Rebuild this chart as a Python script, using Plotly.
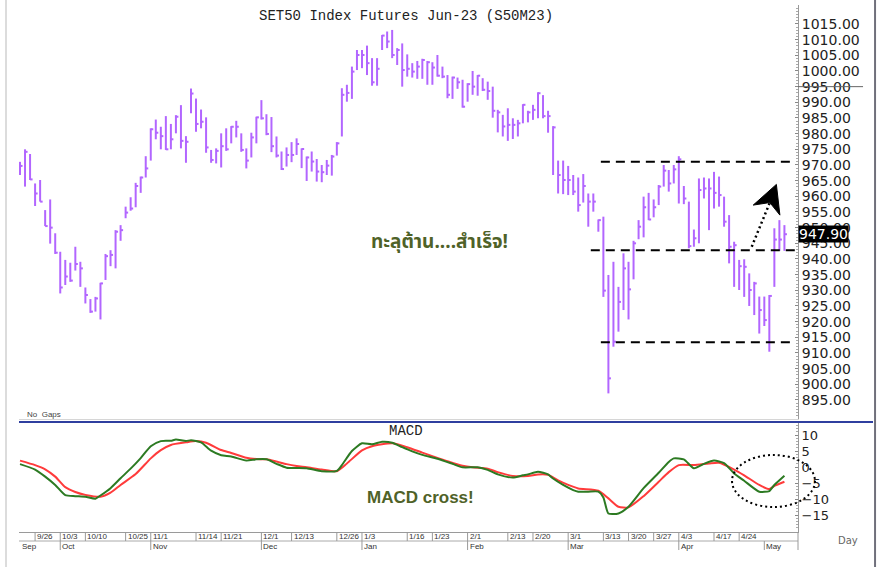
import pandas as pd
import plotly.graph_objects as go

# ---------------- data ----------------
holidays = ["2022-10-13", "2022-10-14", "2022-10-24", "2022-12-05", "2022-12-12",
            "2023-01-02", "2023-03-06", "2023-04-06", "2023-04-13", "2023-04-14",
            "2023-05-01", "2023-05-04"]
dates = [d.strftime("%Y-%m-%d") for d in pd.bdate_range("2022-09-21", "2023-05-09")
         if d.strftime("%Y-%m-%d") not in holidays]

high = [971.0, 975.0, 973.5, 964.1, 965.2, 955.6, 959.0, 948.2, 942.3, 939.7,
        938.8, 943.9, 939.1, 930.9, 927.2, 927.9, 932.4, 941.6, 942.8, 949.2,
        950.8, 956.7, 959.7, 964.3, 966.3, 972.8, 981.7, 984.5, 982.2, 985.6,
        983.1, 985.9, 989.1, 979.2, 994.4, 991.2, 987.7, 985.2, 974.8, 975.3,
        980.1, 981.7, 982.4, 984.1, 980.1, 975.3, 980.3, 985.4, 990.7, 986.2,
        985.3, 979.1, 974.3, 975.6, 977.3, 978.5, 975.3, 972.7, 974.3, 971.9,
        970.0, 971.6, 973.2, 977.3, 994.5, 995.6, 1001.4, 1006.7, 1006.7, 1008.1,
        1004.1, 1004.1, 1011.5, 1012.6, 1013.1, 1007.3, 1008.8, 1005.3, 1002.5, 1003.2,
        1003.9, 1003.2, 1002.8, 1005.1, 1001.4, 998.7, 998.2, 997.9, 997.2, 996.1,
        1000.0, 998.7, 997.7, 996.6, 995.0, 987.6, 986.0, 988.1, 984.9, 984.4,
        989.4, 987.3, 989.2, 993.2, 992.3, 987.3, 982.4, 971.4, 971.4, 969.7,
        966.8, 966.0, 967.1, 960.9, 960.9, 952.6, 953.5, 934.9, 939.1, 931.1,
        941.8, 939.1, 945.8, 952.4, 959.9, 961.1, 959.0, 963.6, 970.0, 968.4,
        970.0, 972.8, 963.3, 958.3, 949.4, 965.7, 966.0, 965.7, 967.8, 966.3,
        959.9, 954.0, 945.5, 939.7, 939.9, 935.4, 932.7, 928.0, 928.0, 928.5,
        949.8, 952.4, 950.8]
low = [966.8, 963.1, 965.2, 956.9, 958.3, 950.5, 944.9, 941.6, 929.0, 931.7,
       932.7, 936.3, 931.1, 925.8, 922.8, 923.2, 920.7, 933.3, 937.7, 937.0,
       945.8, 953.0, 955.4, 956.5, 961.1, 966.0, 971.4, 978.2, 975.0, 974.8,
       975.0, 980.1, 975.3, 970.7, 986.5, 980.6, 981.7, 973.9, 970.7, 970.5,
       969.2, 974.5, 976.9, 978.8, 974.2, 968.9, 972.4, 976.9, 984.5, 979.5,
       974.1, 972.4, 968.4, 969.5, 970.9, 973.2, 969.0, 964.9, 967.9, 964.7,
       964.5, 966.8, 966.6, 973.0, 979.1, 990.2, 991.1, 1000.3, 1000.9, 998.7,
       995.3, 995.3, 1006.7, 1007.3, 1004.1, 1001.9, 995.0, 998.2, 997.9, 997.5,
       997.5, 995.6, 995.6, 998.2, 997.7, 991.3, 991.1, 994.3, 988.3, 990.2,
       992.4, 992.1, 993.6, 990.8, 985.1, 980.4, 979.1, 977.7, 978.3, 979.1,
       983.3, 983.6, 984.4, 984.9, 984.9, 980.3, 966.8, 960.9, 960.7, 960.4,
       960.4, 955.1, 958.0, 950.3, 955.1, 948.7, 927.9, 897.1, 912.0, 916.8,
       923.7, 920.7, 933.5, 946.3, 946.9, 952.4, 953.3, 957.2, 963.1, 961.5,
       964.1, 957.7, 957.5, 943.4, 943.9, 945.0, 959.3, 949.2, 956.1, 956.7,
       950.3, 938.6, 931.1, 930.1, 927.9, 925.0, 922.1, 916.2, 918.6, 910.4,
       931.1, 942.6, 942.6]
close = [969.7, 974.2, 965.4, 960.9, 958.3, 950.5, 950.0, 942.0, 930.9, 934.4,
         933.1, 938.4, 937.0, 928.5, 923.2, 927.4, 932.2, 940.9, 941.3, 948.7,
         949.2, 954.8, 956.1, 963.3, 966.0, 968.9, 981.4, 980.3, 979.2, 975.0,
         978.2, 985.4, 977.7, 977.4, 992.8, 983.1, 983.8, 975.6, 971.6, 974.5,
         976.0, 975.0, 982.2, 982.2, 974.8, 971.4, 978.8, 985.2, 984.9, 979.9,
         976.0, 973.0, 968.7, 973.2, 973.2, 976.7, 975.1, 972.4, 971.1, 967.9,
         967.7, 969.8, 972.7, 976.9, 992.4, 993.0, 999.8, 1005.1, 1005.1, 1002.5,
         996.4, 1000.7, 1011.3, 1009.4, 1005.1, 1006.7, 1000.3, 1000.7, 999.8, 1001.4,
         1003.5, 1002.8, 1001.1, 998.5, 998.2, 992.4, 997.9, 996.4, 988.6, 995.8,
         995.0, 998.5, 994.0, 993.6, 987.3, 986.8, 982.3, 982.8, 982.8, 983.3,
         989.2, 986.8, 987.6, 992.9, 985.6, 985.6, 982.0, 966.8, 965.2, 965.2,
         961.5, 957.2, 963.3, 958.3, 958.3, 952.4, 929.9, 901.9, 913.6, 926.3,
         937.0, 930.3, 945.0, 950.3, 956.5, 952.6, 956.5, 963.1, 968.2, 964.1,
         968.6, 971.8, 959.3, 944.1, 946.6, 962.0, 962.5, 962.5, 961.1, 960.4,
         951.9, 943.9, 944.4, 937.7, 937.5, 930.1, 932.2, 923.7, 920.5, 928.2,
         946.2, 946.2, 947.9]

macd_dates = ["2022-09-21", "2022-09-26", "2022-09-28", "2022-09-30", "2022-10-04",
              "2022-10-06", "2022-10-10", "2022-10-12", "2022-10-17", "2022-10-19",
              "2022-10-21", "2022-10-26", "2022-10-28", "2022-11-01", "2022-11-03",
              "2022-11-07", "2022-11-08", "2022-11-10", "2022-11-11", "2022-11-15",
              "2022-11-17", "2022-11-21", "2022-11-23", "2022-11-28", "2022-11-30",
              "2022-12-02", "2022-12-07", "2022-12-09", "2022-12-14", "2022-12-16",
              "2022-12-21", "2022-12-26", "2022-12-27", "2022-12-29", "2023-01-03",
              "2023-01-05", "2023-01-09", "2023-01-11", "2023-01-13", "2023-01-17",
              "2023-01-19", "2023-01-24", "2023-01-27", "2023-01-31", "2023-02-03",
              "2023-02-07", "2023-02-09", "2023-02-14", "2023-02-16", "2023-02-17",
              "2023-02-21", "2023-02-23", "2023-02-24", "2023-02-28", "2023-03-02",
              "2023-03-03", "2023-03-08", "2023-03-10", "2023-03-13", "2023-03-14",
              "2023-03-16", "2023-03-20", "2023-03-23", "2023-03-28", "2023-03-30",
              "2023-03-31", "2023-04-04", "2023-04-07", "2023-04-11", "2023-04-17",
              "2023-04-19", "2023-04-21", "2023-04-25", "2023-04-28", "2023-05-03",
              "2023-05-05", "2023-05-09"]
macd_vals = [0.9, -0.8, -3.0, -5.6, -8.8, -9.1, -9.3, -9.9, -8.9, -6.6,
             -3.5, -0.5, 2.8, 6.5, 8.1, 8.2, 8.6, 8.1, 8.4, 7.7,
             5.1, 3.7, 3.3, 2.0, 2.4, 2.4, 1.0, -0.2, -0.3, -0.4,
             -1.3, -1.2, 0.6, 5.0, 7.4, 7.1, 7.9, 7.6, 6.2, 4.9,
             3.8, 2.6, 1.0, -0.1, -0.1, -0.9, -2.3, -3.3, -2.6, -2.3,
             -1.5, -2.3, -3.6, -5.6, -7.2, -7.7, -7.7, -7.7, -9.5, -14.5,
             -14.5, -12.4, -6.6, -1.8, 1.6, 2.7, 2.4, -0.4, 1.0, 2.0,
             1.2, -2.0, -4.3, -7.7, -7.5, -5.6, -2.7]

signal_dates = ["2022-09-21", "2022-09-26", "2022-09-28", "2022-09-30", "2022-10-04",
                "2022-10-06", "2022-10-10", "2022-10-17", "2022-10-19", "2022-10-21",
                "2022-10-27", "2022-11-01", "2022-11-03", "2022-11-07", "2022-11-10",
                "2022-11-14", "2022-11-16", "2022-11-21", "2022-11-23", "2022-11-28",
                "2022-11-30", "2022-12-02", "2022-12-07", "2022-12-09", "2022-12-14",
                "2022-12-16", "2022-12-21", "2022-12-26", "2022-12-28", "2023-01-03",
                "2023-01-05", "2023-01-11", "2023-01-16", "2023-01-19", "2023-01-23",
                "2023-01-26", "2023-01-31", "2023-02-02", "2023-02-07", "2023-02-09",
                "2023-02-14", "2023-02-17", "2023-02-21", "2023-02-23", "2023-02-27",
                "2023-03-01", "2023-03-03", "2023-03-10", "2023-03-14", "2023-03-16",
                "2023-03-20", "2023-03-23", "2023-03-28", "2023-03-30", "2023-04-03",
                "2023-04-07", "2023-04-12", "2023-04-18", "2023-04-21", "2023-04-25",
                "2023-04-28", "2023-05-03", "2023-05-05", "2023-05-09"]
signal_vals = [2.0, 0.6, -0.7, -3.0, -6.3, -7.8, -8.7, -9.3, -8.0, -5.6,
               -2.2, 2.7, 5.3, 6.9, 7.7, 8.1, 7.6, 5.3, 4.4, 2.9,
               2.5, 2.4, 1.7, 0.9, 0.3, -0.1, -0.8, -1.3, 1.1, 5.2,
               6.5, 7.4, 6.2, 4.5, 3.4, 1.8, 0.4, -0.1, -0.5, -1.6,
               -2.8, -2.8, -2.3, -2.4, -4.2, -5.6, -6.7, -7.4, -9.8, -12.4,
               -12.6, -9.1, -4.6, -1.6, 0.6, 0.6, 1.1, 1.3, -0.8, -2.6,
               -5.6, -6.9, -5.9, -4.6]

price_ticks = [895, 900, 905, 910, 915, 920, 925, 930, 935, 940, 945, 950, 955, 960,
               965, 970, 975, 980, 985, 990, 995, 1000, 1005, 1010, 1015]
macd_ticks = [-15, -10, -5, 0, 5, 10]
day_ticks = ["2022-09-26", "2022-10-03", "2022-10-10", "2022-10-25", "2022-11-01",
             "2022-11-14", "2022-11-21", "2022-12-01", "2022-12-13", "2022-12-26",
             "2023-01-03", "2023-01-16", "2023-01-23", "2023-02-01", "2023-02-13",
             "2023-02-20", "2023-03-01", "2023-03-13", "2023-03-20", "2023-03-27",
             "2023-04-03", "2023-04-17", "2023-04-24"]
day_labels = ["9/26", "10/3", "10/10", "10/25", "11/1", "11/14", "11/21", "12/1", "12/13",
              "12/26", "1/3", "1/16", "1/23", "2/1", "2/13", "2/20", "3/1", "3/13", "3/20",
              "3/27", "4/3", "4/17", "4/24"]
month_ticks = ["2022-09-21", "2022-10-03", "2022-11-01", "2022-12-01", "2023-01-03",
               "2023-02-01", "2023-03-01", "2023-04-03", "2023-05-02"]
month_labels = ["Sep", "Oct", "Nov", "Dec", "Jan", "Feb", "Mar", "Apr", "May"]

levels = [971.0, 942.8, 913.4]
level_start = ["2023-03-10", "2023-03-08", "2023-03-10"]
last_price = close[-1]

# ---------------- build ----------------
pos = {d: i for i, d in enumerate(dates)}

bx, by = [], []
for i, d in enumerate(dates):
    bx += [pos[d], pos[d], None, pos[d], pos[d] + 0.5, None]
    by += [low[i], high[i], None, close[i], close[i], None]

PURPLE = "#b266ff"
fig = go.Figure()
fig.add_trace(go.Scatter(x=bx, y=by, mode="lines", line=dict(color=PURPLE, width=2),
                         xaxis="x", yaxis="y", hoverinfo="skip"))
fig.add_trace(go.Scatter(x=[pos[d] for d in signal_dates], y=signal_vals, mode="lines",
                         line=dict(color="#ff3b3b", width=2, shape="spline", smoothing=0.6),
                         xaxis="x2", yaxis="y2"))
fig.add_trace(go.Scatter(x=[pos[d] for d in macd_dates], y=macd_vals, mode="lines",
                         line=dict(color="#2c7a22", width=2, shape="spline", smoothing=0.6),
                         xaxis="x2", yaxis="y2"))

xr = [-0.2, 154.7]
TOP_DOM = [0.2144, 1.0]
BOT_DOM = [0.0, 0.2087]
fig.update_layout(
    width=878, height=567, margin=dict(l=19, r=80, t=5, b=35),
    paper_bgcolor="white", plot_bgcolor="white", showlegend=False,
    xaxis=dict(domain=[0, 1], range=xr, anchor="y", showgrid=False, zeroline=False,
               showticklabels=False, ticks="", showline=True, linecolor="#d6d6d6", linewidth=1),
    yaxis=dict(domain=TOP_DOM, range=[888.92, 1021.06], side="right", anchor="x",
               tickmode="array", tickvals=price_ticks, tickformat=".2f",
               showgrid=False, zeroline=False, showline=True, linecolor="#9a9a9a",
               ticks="inside", ticklen=3, tickcolor="#888",
               minor=dict(tickmode="linear", tick0=0, dtick=1, ticks="inside",
                          ticklen=2, tickcolor="#aaa"),
               tickfont=dict(family="DejaVu Sans", size=14, color="#222")),
    xaxis2=dict(domain=[0, 1], range=xr, anchor="y2", matches="x", showgrid=False,
                zeroline=False, showticklabels=False, ticks="", showline=True,
                linecolor="#9a9a9a", linewidth=1),
    yaxis2=dict(domain=BOT_DOM, range=[-20.3, 14.06], side="right", anchor="x2",
                tickmode="array", tickvals=macd_ticks, showgrid=False, zeroline=False,
                showline=True, linecolor="#9a9a9a", ticks="inside", ticklen=3,
                tickcolor="#888",
                minor=dict(tickmode="linear", tick0=0, dtick=1, ticks="inside",
                           ticklen=2, tickcolor="#aaa"),
                tickfont=dict(family="DejaVu Sans", size=13, color="#222")),
)

shapes = []
for lv, st in zip(levels, level_start):
    shapes.append(dict(type="line", xref="x", yref="y", x0=pos[st] + 0.5, x1=154.1,
                       y0=lv, y1=lv, line=dict(color="black", width=2, dash="9px,6px")))
shapes.append(dict(type="line", xref="x", yref="y", x0=145.5, y0=943.9, x1=149.1, y1=958.0,
                   line=dict(color="black", width=2.5, dash="2px,3px")))
shapes.append(dict(type="path", xref="x", yref="y",
                   path="M 150.4 963.8 L 145.8 957.2 L 149.1 958.0 L 151.1 954.0 Z",
                   fillcolor="black", line=dict(color="black", width=1)))
shapes.append(dict(type="circle", xref="paper", yref="paper", x0=0.9153, x1=1.0218,
                   y0=0.0474, y1=0.1461, line=dict(color="black", width=2, dash="2px,3px")))
shapes.append(dict(type="line", xref="paper", yref="paper", x0=0, x1=1.0963,
                   y0=0.2087, y1=0.2087, line=dict(color="#2f3f9f", width=2)))
shapes.append(dict(type="line", xref="paper", yref="y", x0=1, x1=1.0835, y0=995, y1=995,
                   line=dict(color="#666", width=1)))
shapes.append(dict(type="line", xref="paper", yref="paper", x0=0, x1=1, y0=-0.0171, y1=-0.0171,
                   line=dict(color="#aaa", width=1)))
shapes.append(dict(type="line", xref="paper", yref="paper", x0=1, x1=1, y0=0, y1=-0.0342,
                   line=dict(color="#9a9a9a", width=1)))
for d in day_ticks:
    shapes.append(dict(type="line", xref="x2", yref="paper", x0=pos[d], x1=pos[d],
                       y0=0, y1=-0.0171, line=dict(color="#999", width=1)))
for d in month_ticks[1:]:
    shapes.append(dict(type="line", xref="x2", yref="paper", x0=pos[d], x1=pos[d],
                       y0=-0.0171, y1=-0.0342, line=dict(color="#999", width=1)))
shapes.append(dict(type="line", xref="paper", yref="paper", x0=-0.0167, x1=-0.0167,
                   y0=-0.07, y1=1.01, line=dict(color="#dcdcdc", width=2)))
shapes.append(dict(type="line", xref="paper", yref="paper", x0=1.0989, x1=1.0989,
                   y0=-0.07, y1=1.01, line=dict(color="#70707c", width=2)))
fig.update_layout(shapes=shapes)

ann = []
ann.append(dict(text="SET50 Index Futures Jun-23 (S50M23)", xref="paper", yref="paper",
                x=0.4962, y=0.9782, xanchor="center", yanchor="middle", showarrow=False,
                font=dict(family="Liberation Mono, Courier New, monospace", size=14, color="#222")))
ann.append(dict(text="MACD", xref="paper", yref="paper", x=0.4962, y=0.1917,
                xanchor="center", yanchor="middle", showarrow=False,
                font=dict(family="Liberation Mono, Courier New, monospace", size=14, color="#222")))
ann.append(dict(text="No  Gaps", xref="paper", yref="paper", x=0.0077, y=0.2239,
                xanchor="left", yanchor="middle", showarrow=False,
                font=dict(family="Liberation Sans, Arial", size=8, color="#444")))
ann.append(dict(text="<b>ทะลุต้าน....สำเร็จ!</b>", xref="paper", yref="paper", x=0.5392, y=0.5484,
                xanchor="center", yanchor="middle", showarrow=False,
                font=dict(family="Noto Sans Thai, Tahoma, Loma, Garuda, sans-serif", size=19,
                          color="#4f6228")))
ann.append(dict(text="<b>MACD cross!</b>", xref="paper", yref="paper", x=0.5148, y=0.0664,
                xanchor="center", yanchor="middle", showarrow=False,
                font=dict(family="Liberation Sans, Arial", size=17, color="#4f6228")))
ann.append(dict(text="Day", xref="paper", yref="paper", x=1.0642, y=-0.0152,
                xanchor="center", yanchor="middle", showarrow=False,
                font=dict(family="DejaVu Sans", size=10, color="#666")))
ann.append(dict(text=f"{last_price:.2f}", xref="paper", yref="y", x=1, y=last_price,
                xanchor="left", yanchor="middle", xshift=0, showarrow=False,
                bgcolor="black", borderpad=0,
                font=dict(family="DejaVu Sans", size=14, color="white")))
for d, t in zip(day_ticks, day_labels):
    ann.append(dict(text=t, xref="x2", yref="paper", x=pos[d], y=-0.0092, xanchor="left",
                    yanchor="middle", showarrow=False,
                    font=dict(family="Liberation Sans, Arial", size=8, color="#333")))
for d, t in zip(month_ticks, month_labels):
    ann.append(dict(text=t, xref="x2", yref="paper", x=pos[d], y=-0.0266, xanchor="left",
                    yanchor="middle", showarrow=False,
                    font=dict(family="Liberation Sans, Arial", size=8, color="#333")))
fig.update_layout(annotations=ann)

fig.write_html("out.html", config={"displayModeBar": False},
               post_script="document.body.style.margin='0px';document.body.style.overflow='hidden';")
